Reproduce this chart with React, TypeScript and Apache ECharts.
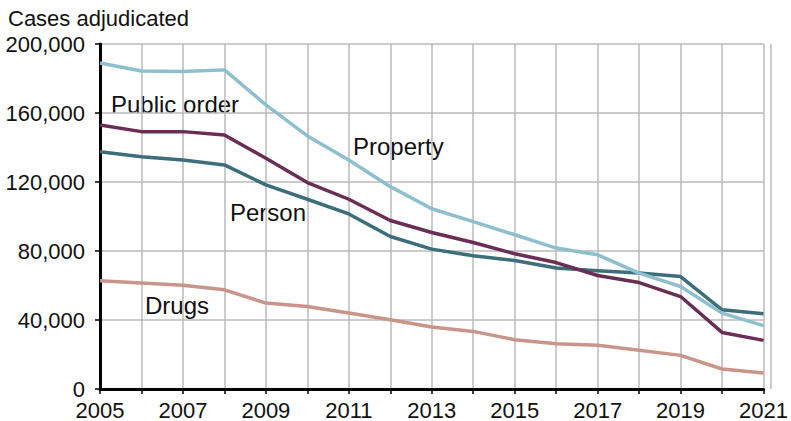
import React, { useEffect, useRef } from "react";
import * as echarts from "echarts";

const years = ["2005","2006","2007","2008","2009","2010","2011","2012","2013","2014","2015","2016","2017","2018","2019","2020","2021"];
const property = [189000,184400,184000,185000,164700,146700,132800,117300,104500,97000,89400,81700,77800,67200,59400,44000,36700];
const publicOrder = [153000,149200,149200,147300,133800,119700,110000,97700,90700,84900,78400,73300,65800,61700,53600,32800,28200];
const person = [137600,134700,132800,129900,118300,110000,101500,88400,81100,77200,74500,70100,68500,67200,65200,45900,43600];
const drugs = [62700,61400,60200,57500,49800,47800,44000,40100,35900,33400,28600,26200,25300,22400,19500,11600,9300];

const FONT = "'Liberation Sans', Arial, Helvetica, sans-serif";

export default function App() {
  const ref = useRef<HTMLDivElement>(null);
  useEffect(() => {
    if (!ref.current) return;
    const chart = echarts.init(ref.current, undefined, { renderer: "svg" });
    const mk = (name: string, data: number[], color: string, z: number) => ({
      name,
      type: "line",
      data,
      symbol: "none",
      z,
      lineStyle: { color, width: 3.5, join: "round" },
      itemStyle: { color },
    });
    chart.setOption({
      animation: false,
      backgroundColor: "#ffffff",
      grid: { left: 100, right: 20, top: 44, bottom: 32, containLabel: false },
      xAxis: {
        type: "category",
        data: years,
        boundaryGap: false,
        axisLine: { show: true, lineStyle: { color: "#000", width: 3 } },
        axisTick: { show: true, length: 5, lineStyle: { color: "#000", width: 1.5 }, interval: 0 },
        axisLabel: {
          interval: 1,
          color: "#111",
          fontFamily: FONT,
          fontSize: 22,
          lineHeight: 20,
          margin: 11,
          showMaxLabel: true,
        },
        splitLine: { show: true, interval: 0, lineStyle: { color: "#b9babc", width: 1.5 } },
      },
      yAxis: {
        type: "value",
        min: 0,
        max: 200000,
        interval: 40000,
        axisLine: { show: true, lineStyle: { color: "#000", width: 3 } },
        axisTick: { show: true, length: 5, lineStyle: { color: "#000", width: 1.5 } },
        axisLabel: {
          color: "#111",
          fontFamily: FONT,
          fontSize: 22,
          lineHeight: 18,
          margin: 15,
          formatter: (v: number) => v.toLocaleString("en-US"),
        },
        splitLine: { show: true, lineStyle: { color: "#b9babc", width: 1.5 } },
      },
      graphic: [
        { type: "line", z: 1, shape: { x1: 771, y1: 44, x2: 771, y2: 389 }, style: { stroke: "#b9babc", lineWidth: 1.5 } },
        { type: "text", left: 8, top: 7, style: { text: "Cases adjudicated", font: `22px ${FONT}`, fill: "#111" } },
        { type: "text", left: 111, top: 92, style: { text: "Public order", font: `24px ${FONT}`, fill: "#111" } },
        { type: "text", left: 353, top: 134, style: { text: "Property", font: `24px ${FONT}`, fill: "#111" } },
        { type: "text", left: 230, top: 200, style: { text: "Person", font: `24px ${FONT}`, fill: "#111" } },
        { type: "text", left: 145, top: 293, style: { text: "Drugs", font: `24px ${FONT}`, fill: "#111" } },
      ],
      series: [
        mk("Drugs", drugs, "#c9958a", 3),
        mk("Person", person, "#3c6e7b", 4),
        mk("Public order", publicOrder, "#6a2d55", 5),
        mk("Property", property, "#8dbfce", 6),
      ],
    });
    return () => chart.dispose();
  }, []);
  return <div ref={ref} style={{ position: "fixed", left: 0, top: 0, width: 791, height: 421 }} />;
}
